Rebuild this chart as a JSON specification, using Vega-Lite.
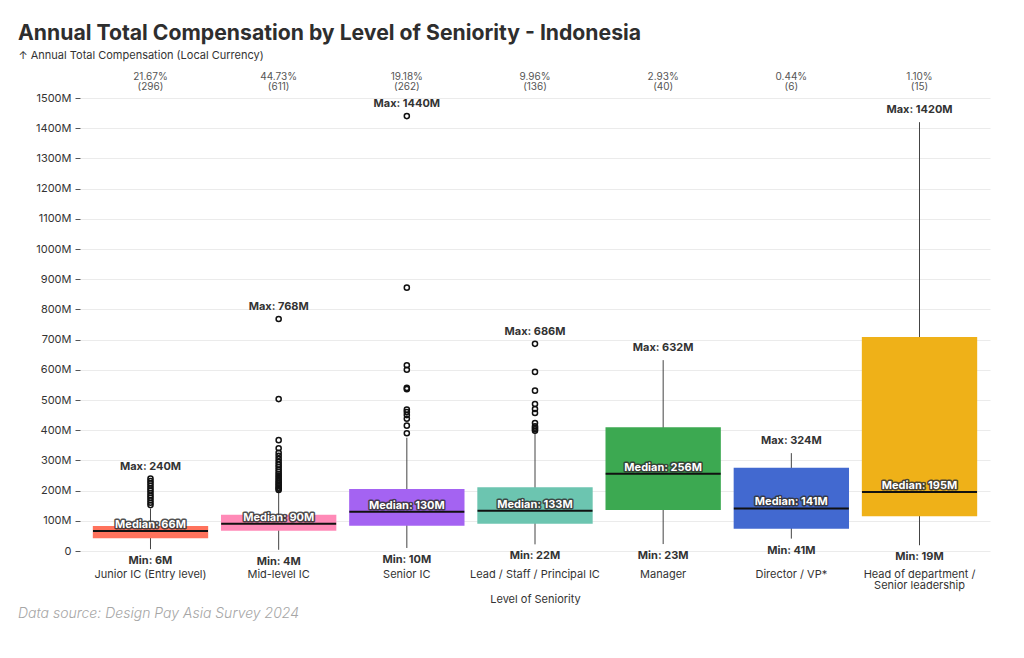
{
  "$schema": "https://vega.github.io/schema/vega-lite/v6.json",
  "padding": {"left": 18, "top": 22, "right": 10, "bottom": 10},
  "background": "white",
  "config": {
    "font": "Inter",
    "view": {"stroke": null},
    "concat": {"spacing": 0},
    "axisY": {
      "tickCount": 20,
      "labelExpr": "datum.value == 0 ? '0' : datum.value + 'M'",
      "labelOverlap": false,
      "labelFontSize": 11,
      "labelColor": "#333",
      "labelPadding": 4,
      "tickSize": 5,
      "tickColor": "#555",
      "domain": false,
      "grid": true,
      "gridColor": "#ebebeb"
    }
  },
  "datasets": {
    "stats": [
      {"level": "Junior IC (Entry level)", "min": 6, "q1": 42, "median": 66, "q3": 83, "whiskerHi": 140, "max": 240, "pct": "21.67%", "n": "(296)", "minLabel": "Min: 6M", "maxLabel": "Max: 240M", "medLabel": "Median: 66M"},
      {"level": "Mid-level IC", "min": 4, "q1": 67, "median": 90, "q3": 120, "whiskerHi": 198, "max": 768, "pct": "44.73%", "n": "(611)", "minLabel": "Min: 4M", "maxLabel": "Max: 768M", "medLabel": "Median: 90M"},
      {"level": "Senior IC", "min": 10, "q1": 84, "median": 130, "q3": 205, "whiskerHi": 375, "max": 1440, "pct": "19.18%", "n": "(262)", "minLabel": "Min: 10M", "maxLabel": "Max: 1440M", "medLabel": "Median: 130M"},
      {"level": "Lead / Staff / Principal IC", "min": 22, "q1": 90, "median": 133, "q3": 211, "whiskerHi": 392, "max": 686, "pct": "9.96%", "n": "(136)", "minLabel": "Min: 22M", "maxLabel": "Max: 686M", "medLabel": "Median: 133M"},
      {"level": "Manager", "min": 23, "q1": 136, "median": 256, "q3": 410, "whiskerHi": 632, "max": 632, "pct": "2.93%", "n": "(40)", "minLabel": "Min: 23M", "maxLabel": "Max: 632M", "medLabel": "Median: 256M"},
      {"level": "Director / VP*", "min": 41, "q1": 74, "median": 141, "q3": 276, "whiskerHi": 324, "max": 324, "pct": "0.44%", "n": "(6)", "minLabel": "Min: 41M", "maxLabel": "Max: 324M", "medLabel": "Median: 141M"},
      {"level": "Head of department / Senior leadership", "min": 19, "q1": 115, "median": 195, "q3": 709, "whiskerHi": 1420, "max": 1420, "pct": "1.10%", "n": "(15)", "minLabel": "Min: 19M", "maxLabel": "Max: 1420M", "medLabel": "Median: 195M"}
    ],
    "outliers": [
      {"level": "Junior IC (Entry level)", "value": 152},
      {"level": "Junior IC (Entry level)", "value": 160},
      {"level": "Junior IC (Entry level)", "value": 168},
      {"level": "Junior IC (Entry level)", "value": 176},
      {"level": "Junior IC (Entry level)", "value": 184},
      {"level": "Junior IC (Entry level)", "value": 192},
      {"level": "Junior IC (Entry level)", "value": 200},
      {"level": "Junior IC (Entry level)", "value": 208},
      {"level": "Junior IC (Entry level)", "value": 216},
      {"level": "Junior IC (Entry level)", "value": 224},
      {"level": "Junior IC (Entry level)", "value": 232},
      {"level": "Junior IC (Entry level)", "value": 240},
      {"level": "Mid-level IC", "value": 202},
      {"level": "Mid-level IC", "value": 206},
      {"level": "Mid-level IC", "value": 210},
      {"level": "Mid-level IC", "value": 215},
      {"level": "Mid-level IC", "value": 220},
      {"level": "Mid-level IC", "value": 225},
      {"level": "Mid-level IC", "value": 230},
      {"level": "Mid-level IC", "value": 236},
      {"level": "Mid-level IC", "value": 242},
      {"level": "Mid-level IC", "value": 248},
      {"level": "Mid-level IC", "value": 255},
      {"level": "Mid-level IC", "value": 262},
      {"level": "Mid-level IC", "value": 270},
      {"level": "Mid-level IC", "value": 278},
      {"level": "Mid-level IC", "value": 286},
      {"level": "Mid-level IC", "value": 295},
      {"level": "Mid-level IC", "value": 305},
      {"level": "Mid-level IC", "value": 315},
      {"level": "Mid-level IC", "value": 325},
      {"level": "Mid-level IC", "value": 340},
      {"level": "Mid-level IC", "value": 367},
      {"level": "Mid-level IC", "value": 503},
      {"level": "Mid-level IC", "value": 768},
      {"level": "Senior IC", "value": 390},
      {"level": "Senior IC", "value": 415},
      {"level": "Senior IC", "value": 438},
      {"level": "Senior IC", "value": 450},
      {"level": "Senior IC", "value": 460},
      {"level": "Senior IC", "value": 468},
      {"level": "Senior IC", "value": 536},
      {"level": "Senior IC", "value": 540},
      {"level": "Senior IC", "value": 600},
      {"level": "Senior IC", "value": 615},
      {"level": "Senior IC", "value": 872},
      {"level": "Senior IC", "value": 1440},
      {"level": "Lead / Staff / Principal IC", "value": 398},
      {"level": "Lead / Staff / Principal IC", "value": 403},
      {"level": "Lead / Staff / Principal IC", "value": 408},
      {"level": "Lead / Staff / Principal IC", "value": 413},
      {"level": "Lead / Staff / Principal IC", "value": 424},
      {"level": "Lead / Staff / Principal IC", "value": 457},
      {"level": "Lead / Staff / Principal IC", "value": 470},
      {"level": "Lead / Staff / Principal IC", "value": 487},
      {"level": "Lead / Staff / Principal IC", "value": 531},
      {"level": "Lead / Staff / Principal IC", "value": 593},
      {"level": "Lead / Staff / Principal IC", "value": 686}
    ]
  },
  "title": {
    "text": "Data source: Design Pay Asia Survey 2024",
    "orient": "bottom",
    "anchor": "start",
    "frame": "bounds",
    "fontSize": 14,
    "fontStyle": "italic",
    "fontWeight": 300,
    "color": "#a6a6a6",
    "offset": 3
  },
  "vconcat": [
    {
      "width": 910,
      "height": 453,
      "title": {
        "text": "Annual Total Compensation by Level of Seniority - Indonesia",
        "anchor": "start",
        "frame": "bounds",
        "fontSize": 21.2,
        "fontWeight": "bold",
        "color": "#2e2e2e",
        "offset": 5
      },
      "encoding": {
        "x": {
          "field": "level",
          "type": "nominal",
          "sort": null,
          "scale": {"paddingInner": 0.1, "paddingOuter": 0.1},
          "axis": {
            "title": "Level of Seniority",
            "labelAngle": 0,
            "labelFontSize": 11,
            "labelColor": "#333",
            "labelPadding": 17,
            "labelLineHeight": 11,
            "labelExpr": "datum.label == 'Head of department / Senior leadership' ? ['Head of department /', 'Senior leadership'] : datum.label",
            "ticks": false,
            "tickSize": 0,
            "domain": false,
            "grid": false,
            "titleFontSize": 11,
            "titleFontWeight": "normal",
            "titleColor": "#333",
            "titlePadding": 3
          }
        }
      },
      "layer": [
        {
          "data": {"name": "stats"},
          "mark": {"type": "rule", "color": "#444", "strokeWidth": 1},
          "encoding": {
            "y": {
              "field": "min",
              "type": "quantitative",
              "scale": {"domain": [0, 1500], "nice": false},
              "axis": {
                "title": "↑ Annual Total Compensation (Local Currency)",
                "titleAngle": 0,
                "titleAlign": "left",
                "titleBaseline": "middle",
                "titleX": -62,
                "titleY": -43,
                "titleFontSize": 11,
                "titleFontWeight": "normal",
                "titleColor": "#333",
                "tickCount": 20,
                "values": [0, 100, 200, 300, 400, 500, 600, 700, 800, 900, 1000, 1100, 1200, 1300, 1400, 1500]
              }
            },
            "y2": {"field": "whiskerHi"}
          }
        },
        {
          "data": {"name": "stats"},
          "mark": {"type": "bar", "opacity": 1},
          "encoding": {
            "y": {"field": "q1", "type": "quantitative"},
            "y2": {"field": "q3"},
            "color": {
              "field": "level",
              "type": "nominal",
              "sort": null,
              "legend": null,
              "scale": {
                "domain": ["Junior IC (Entry level)", "Mid-level IC", "Senior IC", "Lead / Staff / Principal IC", "Manager", "Director / VP*", "Head of department / Senior leadership"],
                "range": ["#ff725c", "#ff8ab7", "#a463f2", "#6cc5b0", "#3ca951", "#4269d0", "#efb118"]
              }
            }
          }
        },
        {
          "data": {"name": "stats"},
          "mark": {"type": "tick", "color": "#111", "thickness": 2, "size": 115, "opacity": 1},
          "encoding": {
            "y": {"field": "median", "type": "quantitative"}
          }
        },
        {
          "data": {"name": "outliers"},
          "mark": {"type": "point", "filled": false, "stroke": "#111", "strokeWidth": 1.5, "size": 26, "opacity": 1},
          "encoding": {
            "y": {"field": "value", "type": "quantitative"}
          }
        },
        {
          "data": {"name": "stats"},
          "mark": {"type": "text", "fontSize": 11, "fontWeight": "bold", "color": "#333", "baseline": "middle", "dy": -12},
          "encoding": {
            "y": {"field": "max", "type": "quantitative"},
            "text": {"field": "maxLabel"}
          }
        },
        {
          "data": {"name": "stats"},
          "mark": {"type": "text", "fontSize": 11, "fontWeight": "bold", "color": "#333", "baseline": "middle", "dy": 12},
          "encoding": {
            "y": {"field": "min", "type": "quantitative"},
            "text": {"field": "minLabel"}
          }
        },
        {
          "data": {"name": "stats"},
          "mark": {"type": "text", "fontSize": 11, "fontWeight": "bold", "fill": "#333", "stroke": "#333", "strokeWidth": 3, "strokeOpacity": 0.85, "strokeJoin": "round", "baseline": "middle", "dy": -6},
          "encoding": {
            "y": {"field": "median", "type": "quantitative"},
            "text": {"field": "medLabel"}
          }
        },
        {
          "data": {"name": "stats"},
          "mark": {"type": "text", "fontSize": 11, "fontWeight": "bold", "color": "white", "baseline": "middle", "dy": -6},
          "encoding": {
            "y": {"field": "median", "type": "quantitative"},
            "text": {"field": "medLabel"}
          }
        },
        {
          "data": {"name": "stats"},
          "mark": {"type": "text", "fontSize": 10, "color": "#555", "baseline": "middle", "dy": -21},
          "encoding": {
            "y": {"datum": 1500, "type": "quantitative"},
            "text": {"field": "pct"}
          }
        },
        {
          "data": {"name": "stats"},
          "mark": {"type": "text", "fontSize": 10, "color": "#555", "baseline": "middle", "dy": -11},
          "encoding": {
            "y": {"datum": 1500, "type": "quantitative"},
            "text": {"field": "n"}
          }
        }
      ]
    }
  ]
}
